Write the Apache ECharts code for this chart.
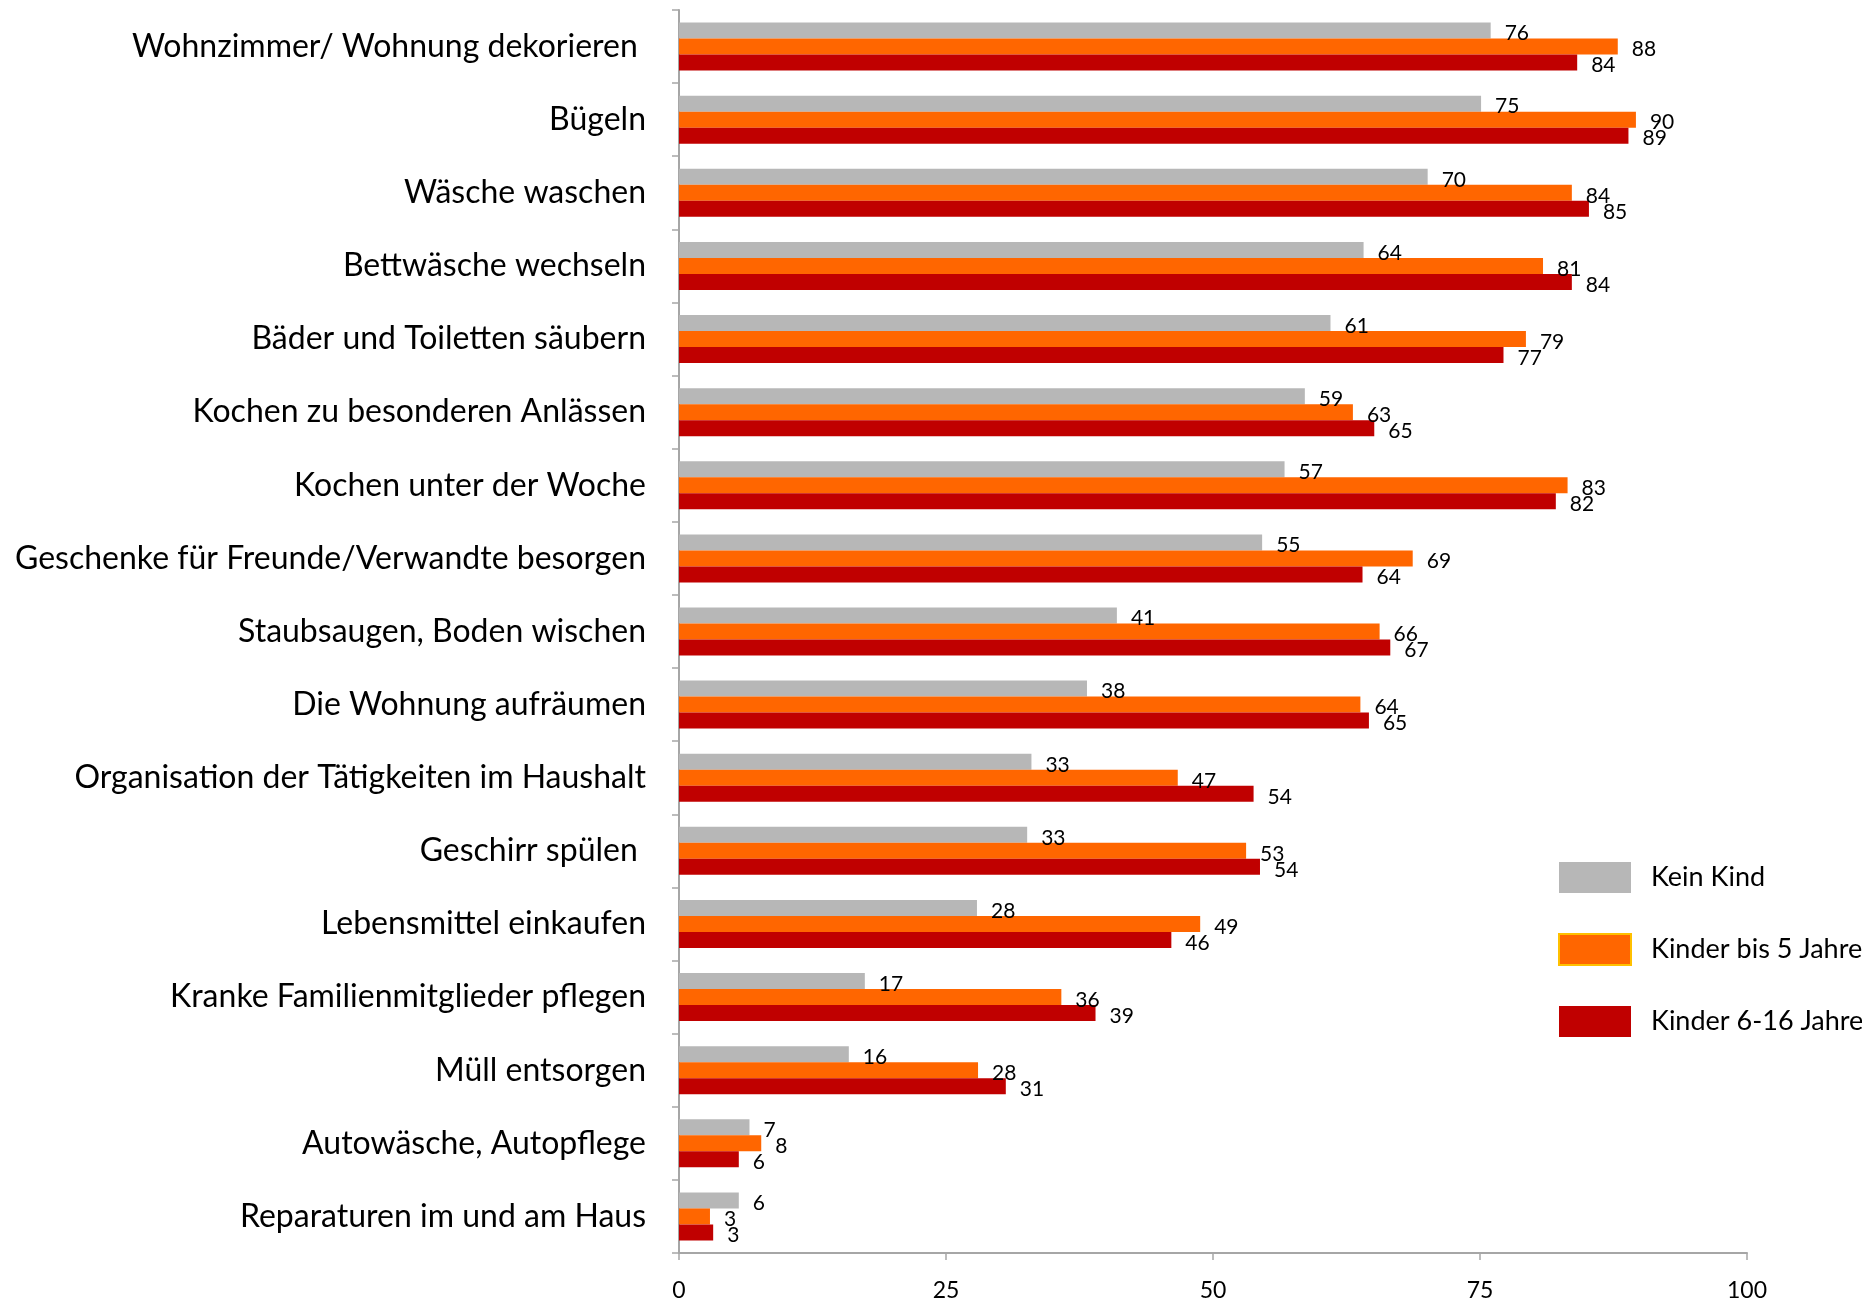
<!DOCTYPE html>
<html>
<head>
<meta charset="utf-8">
<script src="https://cdn.jsdelivr.net/npm/echarts@6/dist/echarts.min.js"></script>
<style>
  html, body { margin: 0; padding: 0; background: #fff; }
  #chart { width: 1862px; height: 1303px; }
</style>
</head>
<body>
<div id="chart"></div>
<script>
// Kategorien (von oben nach unten)
const categories = [
    'Wohnzimmer/ Wohnung dekorieren ',
    'Bügeln',
    'Wäsche waschen',
    'Bettwäsche wechseln',
    'Bäder und Toiletten säubern',
    'Kochen zu besonderen Anlässen',
    'Kochen unter der Woche',
    'Geschenke für Freunde/Verwandte besorgen',
    'Staubsaugen, Boden wischen',
    'Die Wohnung aufräumen',
    'Organisation der Tätigkeiten im Haushalt',
    'Geschirr spülen ',
    'Lebensmittel einkaufen',
    'Kranke Familienmitglieder pflegen',
    'Müll entsorgen',
    'Autowäsche, Autopflege',
    'Reparaturen im und am Haus'
];

const seriesNames = ['Kein Kind', 'Kinder bis 5 Jahre', 'Kinder 6-16 Jahre'];

// Werte in % (Balkenlänge), Beschriftung gerundet
const keinKind = [76.0, 75.1, 70.1, 64.1, 61.0, 58.6, 56.7, 54.6, 41.0, 38.2, 33.0, 32.6, 27.9, 17.4, 15.9, 6.6, 5.6];
const kinderBis5 = [87.9, 89.6, 83.6, 80.9, 79.3, 63.1, 83.2, 68.7, 65.6, 63.8, 46.7, 53.1, 48.8, 35.8, 28.0, 7.7, 2.9];
const kinder6bis16 = [84.1, 88.9, 85.2, 83.6, 77.2, 65.1, 82.1, 64.0, 66.6, 64.6, 53.8, 54.4, 46.1, 39.0, 30.6, 5.6, 3.2];

const xTicks = { min: 0, max: 100, interval: 25 };

const colors = ['#B7B7B7', '#FF6600', '#C00000'];
const fontFamily = 'Lato, "Open Sans", sans-serif';
const axisGray = '#A6A6A6';

const chart = echarts.init(document.getElementById('chart'));

function makeSeries(name, values, color) {
    return {
        name: name,
        type: 'bar',
        data: values,
        barWidth: 16,
        barGap: '0%',
        itemStyle: { color: color },
        label: {
            show: true,
            position: 'right',
            distance: 14,
            offset: [0, 3],
            color: '#000',
            fontFamily: fontFamily,
            fontSize: 21,
            formatter: p => Math.round(p.value)
        },
        emphasis: { disabled: true },
        animation: false
    };
}

const option = {
    animation: false,
    grid: {
        left: 679,
        right: 115,
        top: 10,
        bottom: 50,
        containLabel: false
    },
    legend: {
        orient: 'vertical',
        left: 1553,
        top: 857,
        itemWidth: 72,
        itemHeight: 31,
        itemGap: 40,
        icon: 'rect',
        selectedMode: false,
        textStyle: {
            color: '#000',
            fontFamily: fontFamily,
            fontSize: 27,
            padding: [0, 0, 0, 15]
        },
        data: [
            { name: seriesNames[0] },
            { name: seriesNames[1], itemStyle: { borderColor: '#FFC000', borderWidth: 2 } },
            { name: seriesNames[2] }
        ]
    },
    xAxis: {
        type: 'value',
        min: xTicks.min,
        max: xTicks.max,
        interval: xTicks.interval,
        axisLine: { show: true, lineStyle: { color: axisGray, width: 2 } },
        axisTick: { show: true, length: 7, lineStyle: { color: axisGray, width: 1.5 } },
        splitLine: { show: false },
        axisLabel: {
            color: '#000',
            fontFamily: fontFamily,
            fontSize: 23,
            margin: 26
        }
    },
    yAxis: {
        type: 'category',
        data: categories,
        inverse: true,
        axisLine: { show: true, lineStyle: { color: axisGray, width: 2 } },
        axisTick: { show: true, length: 7, interval: 0, lineStyle: { color: axisGray, width: 1.5 } },
        axisLabel: {
            color: '#000',
            fontFamily: fontFamily,
            fontSize: 32,
            margin: 33,
            interval: 0
        }
    },
    series: [
        makeSeries(seriesNames[0], keinKind, colors[0]),
        makeSeries(seriesNames[1], kinderBis5, colors[1]),
        makeSeries(seriesNames[2], kinder6bis16, colors[2])
    ]
};

chart.setOption(option);
</script>
</body>
</html>
